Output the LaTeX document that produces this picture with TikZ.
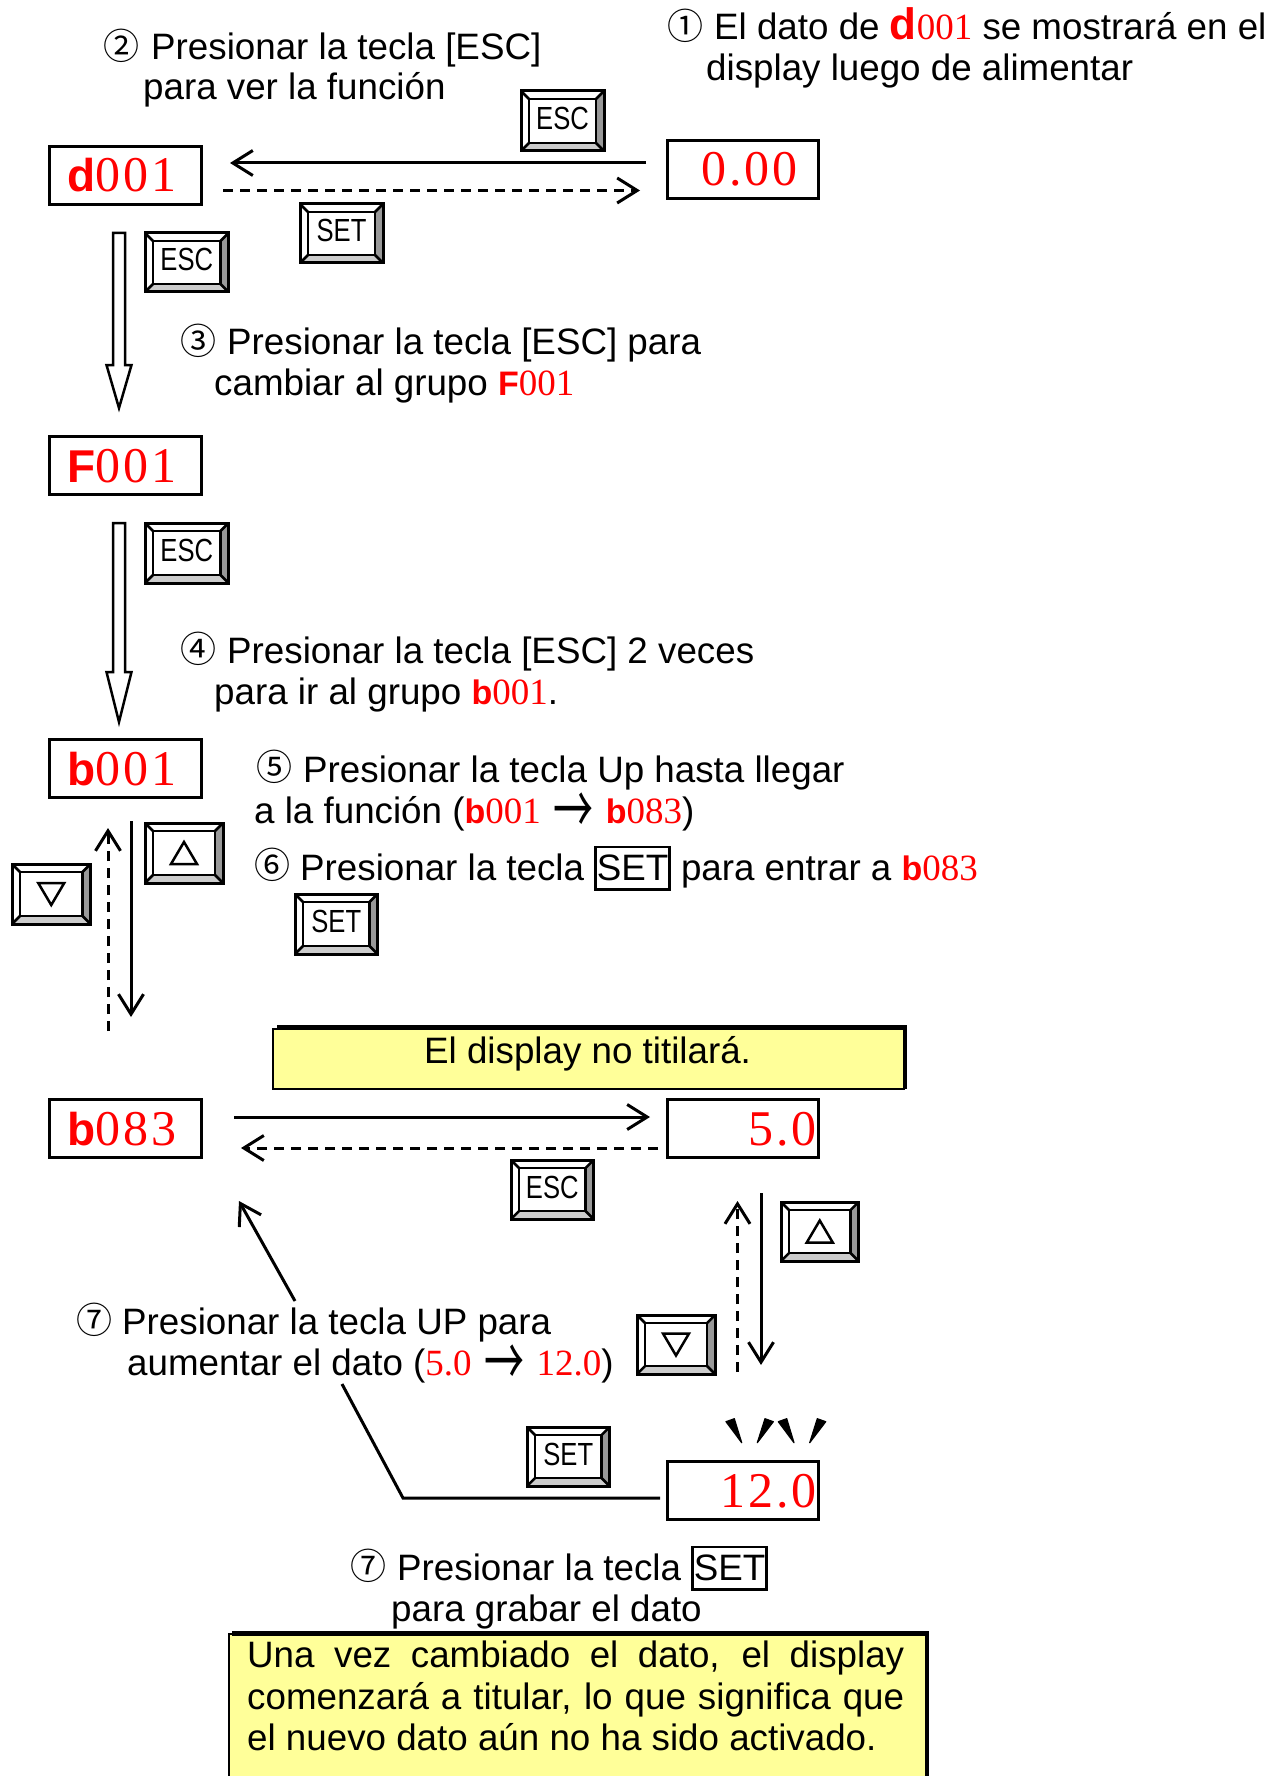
\documentclass[tikz,border=0pt]{standalone}
\usepackage{fontspec}
\usepackage{graphicx}
\usetikzlibrary{arrows.meta}
\setmainfont{Liberation Sans}
\newfontfamily\dispfont[LetterSpace=6]{Liberation Serif}
\newfontfamily\inlfont{Liberation Serif}
\newfontfamily\letfont{Liberation Sans}
\newfontfamily\keyfont[FakeStretch=0.8]{Liberation Sans}
\newfontfamily\circfont{Noto Sans CJK JP}
\definecolor{noteyellow}{HTML}{FFFF99}
\definecolor{keydark}{HTML}{999999}
\definecolor{keylight}{HTML}{CCCCCC}
\newcommand{\rd}[1]{{\inlfont\fontsize{37}{41}\selectfont\color{red}#1}}
\newcommand{\lt}[1]{{\letfont\bfseries\fontsize{34}{41}\selectfont #1}}
\newcommand{\dl}[1]{{\letfont\bfseries\fontsize{46}{50}\selectfont #1}}
\newcommand{\cnum}[1]{{\circfont\fontsize{36}{41}\selectfont #1}}
\newcommand{\arr}{\hspace{13pt}\raisebox{-11pt}{\scalebox{1}[1.7]{\circfont\fontsize{40}{41}\selectfont →}}\hspace{12pt}}
\newcommand{\boxset}{\setlength\fboxsep{0pt}\setlength\fboxrule{2.5pt}\fbox{\rule[-8pt]{0pt}{40pt}SET}}
\newcommand{\tx}[4]{\node[lbl] (#1) at (#2,#3) {#4};}
% name, x1, y1, x2, y2, label
\newcommand{\keycap}[6]{%
  \pgfmathsetmacro{\kw}{#4-#2-16}\pgfmathsetmacro{\kh}{#5-#3-16}%
  \fill[white] (#2,#3) rectangle (#4,#5);
  \fill[keydark] (#4,#3) -- (#4,#5) -- ({#4-8},{#5-8}) -- ({#4-8},{#3+8}) -- cycle;
  \fill[keylight] (#2,#5) -- (#4,#5) -- ({#4-8},{#5-8}) -- ({#2+8},{#5-8}) -- cycle;
  \draw[keyline] (#2,#3) -- ({#2+8},{#3+8}) (#4,#3) -- ({#4-8},{#3+8}) (#2,#5) -- ({#2+8},{#5-8}) (#4,#5) -- ({#4-8},{#5-8});
  \draw[keyline,line width=3pt] (#2,#3) rectangle (#4,#5);
  \node[keyface,minimum width=\kw pt,minimum height=\kh pt] (#1) at ({(#2+#4)/2},{(#3+#5)/2}) {#6};
}
\newcommand{\uptri}[1]{\draw[keyline,line join=miter] ([xshift=-13pt,yshift=-11pt]#1.center) -- ([xshift=13pt,yshift=-11pt]#1.center) -- ([yshift=11pt]#1.center) -- cycle;}
\newcommand{\downtri}[1]{\draw[keyline,line join=miter] ([xshift=-13pt,yshift=11pt]#1.center) -- ([xshift=13pt,yshift=11pt]#1.center) -- ([yshift=-11pt]#1.center) -- cycle;}
\tikzset{
  x=1pt,y=-1pt,
  lbl/.style={anchor=base west,inner sep=0pt,font=\fontsize{36.75}{41}\selectfont},
  dispbox/.style={draw=black,line width=3pt,fill=white,inner sep=0pt,minimum width=151.5pt,minimum height=58pt,text width=148pt,text height=33pt,text depth=0pt,text=red,font=\dispfont\fontsize{50}{50}\selectfont},
  keyline/.style={draw=black,line width=2.5pt},
  keyface/.style={draw=black,line width=2.5pt,fill=white,inner sep=0pt,text height=23pt,text depth=6pt,font=\keyfont\fontsize{32}{32}\selectfont},
  conn/.style={line width=3pt,-{Straight Barb[length=20pt,width=25pt,line width=3pt]}},
  dconn/.style={conn,dash pattern=on 10pt off 7pt},
  hollow/.style={draw=black,fill=white,line width=2.5pt,line join=miter},
  notebox/.style={draw=black,line width=2.5pt,fill=noteyellow},
  thickedge/.style={draw=black,line width=5pt},
  blink/.style={fill=black,draw=black,line width=1.2pt,line join=round}
}
\begin{document}
\begin{tikzpicture}
\useasboundingbox (0,0) rectangle (1270,1776);
\fill[white] (0,0) rectangle (1270,1776);

% display boxes
\node[dispbox] (d001) at (125.5,175.5) {\hspace{15.5pt}\dl{d}001};
\node[dispbox] (v000) at (743,169.5) {\hspace{32pt}0.00};
\node[dispbox] (f001) at (125.5,465.5) {\hspace{15.5pt}\dl{F}001};
\node[dispbox] (b001) at (125.5,768.5) {\hspace{15.5pt}\dl{b}001};
\node[dispbox] (b083) at (125.5,1128.5) {\hspace{15.5pt}\dl{b}083};
\node[dispbox] (v50) at (743,1128.5) {\hfill 5.0\hspace{8pt}};
\node[dispbox] (v120) at (743,1490.5) {\hfill 12.0\hspace{8pt}};

% keys
\keycap{kesca}{521}{91}{604}{151}{ESC}
\keycap{kseta}{300}{204}{383}{263}{SET}
\keycap{kescb}{145}{233}{228.5}{292}{ESC}
\keycap{kescc}{145}{523}{228.5}{583}{ESC}
\keycap{kupa}{145}{823}{223}{883}{}
\uptri{kupa}
\keycap{kdna}{12}{864}{90.5}{924}{}
\downtri{kdna}
\keycap{ksetb}{295}{894}{377.5}{954}{SET}
\keycap{kescd}{511}{1160}{593.5}{1219}{ESC}
\keycap{kupb}{781}{1202}{858.5}{1261}{}
\uptri{kupb}
\keycap{kdnb}{637}{1315}{715}{1374}{}
\downtri{kdnb}
\keycap{ksetc}{527}{1427}{609.5}{1486}{SET}

% connector ends
\coordinate (a1s) at (646,163); \coordinate (a1e) at (230,163);
\coordinate (a2s) at (223,190.5); \coordinate (a2e) at (640,190.5);
\coordinate (a3s) at (108,1031); \coordinate (a3e) at (108,828);
\coordinate (a4s) at (131,821); \coordinate (a4e) at (131,1017);
\coordinate (a5s) at (234,1117); \coordinate (a5e) at (650,1117);
\coordinate (a6s) at (658,1148); \coordinate (a6e) at (241,1148);
\coordinate (a7s) at (761,1193); \coordinate (a7e) at (761,1365);
\coordinate (a8s) at (737.5,1372); \coordinate (a8e) at (737.5,1201);
\coordinate (a9s) at (660,1498); \coordinate (a9m) at (403,1498); \coordinate (a9t) at (342,1384);
\coordinate (a10s) at (295,1301); \coordinate (a10e) at (239,1201);

\draw[conn] (a1s) -- (a1e);
\draw[dconn] (a2s) -- (a2e);
\draw[dconn] (a3s) -- (a3e);
\draw[conn] (a4s) -- (a4e);
\draw[conn] (a5s) -- (a5e);
\draw[dconn] (a6s) -- (a6e);
\draw[conn] (a7s) -- (a7e);
\draw[dconn] (a8s) -- (a8e);
\draw[line width=3pt] (a9s) -- (a9m) -- (a9t);
\draw[conn] (a10s) -- (a10e);

% hollow arrows
\draw[hollow] (113,233) -- (125,233) -- (125,365) -- (131.5,365) -- (119,408) -- (106.5,365) -- (113,365) -- cycle;
\draw[hollow] (113,523) -- (125,523) -- (125,672) -- (131.5,672) -- (119,722) -- (106.5,672) -- (113,672) -- cycle;

% blink marks
\fill[blink] (726,1421.7) -- (734.3,1418.7) -- (741.7,1442.7) -- cycle;
\fill[blink] (765,1418.7) -- (773.3,1421.7) -- (757.3,1442.7) -- cycle;
\fill[blink] (778.3,1421.7) -- (786.7,1418.7) -- (794,1442.7) -- cycle;
\fill[blink] (817.3,1418.7) -- (825.7,1421.7) -- (809.7,1442.7) -- cycle;

% notes
\draw[notebox] (273,1029) rectangle (904,1089);
\draw[thickedge] (277,1027) -- (907,1027);
\draw[thickedge,line width=4pt] (905,1025) -- (905,1089);
\draw[notebox] (229,1634) rectangle (927,1790);
\draw[thickedge] (232,1633) -- (929,1633);
\draw[thickedge,line width=4pt] (927,1631) -- (927,1776);

% texts
\tx{c1}{667}{40}{\cnum{①}}
\tx{t1a}{714}{40}{El dato de \rd{\letfont\bfseries\fontsize{44}{41}\selectfont d\inlfont\mdseries\fontsize{37}{41}\selectfont 001} se mostrará en el}
\tx{t1b}{706}{81}{display luego de alimentar}
\tx{c2}{103}{60}{\cnum{②}}
\tx{t2a}{151}{60}{Presionar la tecla [ESC]}
\tx{t2b}{143}{100}{para ver la función}
\tx{c3}{180}{354}{\cnum{③}}
\tx{t3a}{227}{354}{Presionar la tecla [ESC] para}
\tx{t3b}{214}{395}{cambiar al grupo \rd{\lt{F}001}}
\tx{c4}{180}{662}{\cnum{④}}
\tx{t4a}{227}{663}{Presionar la tecla [ESC] 2 veces}
\tx{t4b}{214}{704}{para ir al grupo \rd{\lt{b}001}.}
\tx{c5}{256}{780}{\cnum{⑤}}
\tx{t5a}{303}{782}{Presionar la tecla Up hasta llegar}
\tx{t5b}{254}{823}{a la función (\rd{\lt{b}001}\arr\rd{\lt{b}083})}
\tx{c6}{254}{878}{\cnum{⑥}}
\tx{t6}{300}{880}{Presionar la tecla \boxset{} para entrar a \rd{\lt{b}083}}
\tx{tn1}{424}{1063}{El display no titilará.}
\tx{c7a}{76}{1333}{\cnum{⑦}}
\tx{t7a}{122}{1334}{Presionar la tecla UP para}
\tx{t7b}{127}{1375}{aumentar el dato (\rd{5.0}\arr\rd{12.0})}
\tx{c7b}{350}{1579}{\cnum{⑦}}
\tx{t8a}{397}{1580}{Presionar la tecla \boxset}
\tx{t8b}{391}{1621}{para grabar el dato}
\tx{n2a}{247}{1667.5}{\makebox[657pt][s]{Una vez cambiado el dato, el display}}
\tx{n2b}{247}{1709}{\makebox[657pt][s]{comenzará a titular, lo que significa que}}
\tx{n2c}{247}{1750}{el nuevo dato aún no ha sido activado.}
\end{tikzpicture}
\end{document}
